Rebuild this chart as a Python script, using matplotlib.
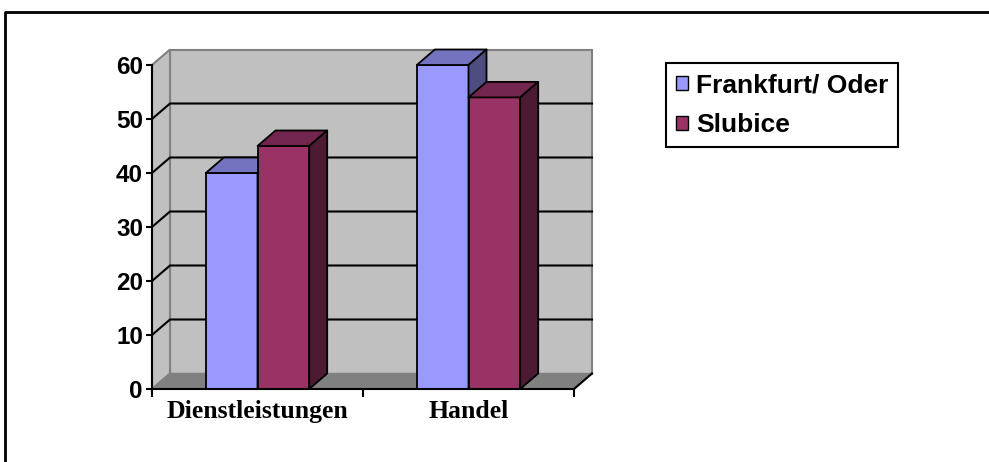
import matplotlib.pyplot as plt
from matplotlib.patches import Polygon, Patch
from matplotlib.lines import Line2D

categories = ['Dienstleistungen', 'Handel']
series = ['Frankfurt/ Oder', 'Slubice']
frankfurt = [40, 60]
slubice = [45, 54]
yticks = [0, 10, 20, 30, 40, 50, 60]

# front / top / side shades for each series
colors = {
    'Frankfurt/ Oder': ('#9999FF', '#7373C0', '#4D4D80'),
    'Slubice': ('#993366', '#73264D', '#4D1A33'),
}

W, H = 989, 462
fig = plt.figure(figsize=(W / 100, H / 100), dpi=100)
ax = fig.add_axes([152 / W, 73 / H, 422 / W, 324 / H])
ax.set_xlim(-0.5, 1.5)
ax.set_ylim(0, 60)
ax.patch.set_visible(False)

# depth of the 3d box in data units (18 px right, 15.5 px up)
dx = 18 / (422 / 2.0)
dy = 15.5 / (324 / 60.0)

x0, x1, ytop = -0.5, 1.5, 60
wall = '#C0C0C0'

# back wall, left wall, floor
ax.add_patch(Polygon([(x0 + dx, dy), (x1 + dx, dy), (x1 + dx, ytop + dy), (x0 + dx, ytop + dy)],
                     fc=wall, ec='#808080', lw=1.5, clip_on=False, zorder=0.5))
ax.add_patch(Polygon([(x0, 0), (x0 + dx, dy), (x0 + dx, ytop + dy), (x0, ytop)],
                     fc=wall, ec='#808080', lw=1.5, clip_on=False, zorder=0.5))
ax.add_patch(Polygon([(x0, 0), (x1, 0), (x1 + dx, dy), (x0 + dx, dy)],
                     fc='#808080', ec='#808080', lw=1, clip_on=False, zorder=0.6))
ax.add_line(Line2D([x1, x1 + dx], [0, dy], color='black', lw=1.5, clip_on=False, zorder=0.7))

# gridlines running across the left wall and the back wall
for v in yticks[1:-1]:
    ax.add_line(Line2D([x0, x0 + dx, x1 + dx], [v, v + dy, v + dy],
                       color='black', lw=1.5, clip_on=False, zorder=0.8))


def bar3d(left, width, h, shades):
    front, top, side = shades
    kw = dict(ec='black', lw=1.3, clip_on=False, zorder=3, joinstyle='round')
    ax.add_patch(Polygon([(left, 0), (left + width, 0), (left + width, h), (left, h)], fc=front, **kw))
    ax.add_patch(Polygon([(left, h), (left + width, h), (left + width + dx, h + dy), (left + dx, h + dy)],
                         fc=top, **kw))
    ax.add_patch(Polygon([(left + width, 0), (left + width + dx, dy), (left + width + dx, h + dy),
                          (left + width, h)], fc=side, **kw))


bw = 0.245
for i in range(len(categories)):
    bar3d(i - bw, bw, frankfurt[i], colors['Frankfurt/ Oder'])
    bar3d(i, bw, slubice[i], colors['Slubice'])

# axes lines and ticks
for s in ['top', 'right']:
    ax.spines[s].set_visible(False)
for s in ['left', 'bottom']:
    ax.spines[s].set_linewidth(1.5)
    ax.spines[s].set_zorder(4)

ax.set_yticks(yticks)
ax.set_yticklabels([str(v) for v in yticks], fontfamily='Liberation Sans',
                   fontweight='bold', fontsize=17.5)
ax.tick_params(axis='y', direction='out', length=4, width=1.5, pad=2.5)

ax.set_xticks([-0.5, 0.5, 1.5])
ax.set_xticklabels([])
ax.tick_params(axis='x', which='major', direction='out', length=6, width=1.5)
ax.set_xticks([0, 1], minor=True)
ax.set_xticklabels(categories, minor=True, fontfamily='Liberation Serif',
                   fontweight='bold', fontsize=18.5)
ax.tick_params(axis='x', which='minor', length=0, pad=8)

# legend
handles = [Patch(fc=colors[s][0], ec='black', lw=1) for s in series]
leg = fig.legend(handles, series, loc='upper left', bbox_to_anchor=(666 / W, 1 - 63 / H),
                 borderaxespad=0, frameon=True, fancybox=False, framealpha=1,
                 edgecolor='black', handlelength=0.45, handleheight=0.45,
                 handletextpad=0.3, labelspacing=0.62, borderpad=0.38,
                 prop={'family': 'Liberation Sans', 'weight': 'bold', 'size': 19})
leg.get_frame().set_linewidth(1.5)

# outer chart frame
fig.add_artist(Line2D([5 / W, 5 / W, 1], [0, 1 - 12 / H, 1 - 12 / H],
                      transform=fig.transFigure, color='black', lw=2))

fig.savefig('out.png', dpi=100)
